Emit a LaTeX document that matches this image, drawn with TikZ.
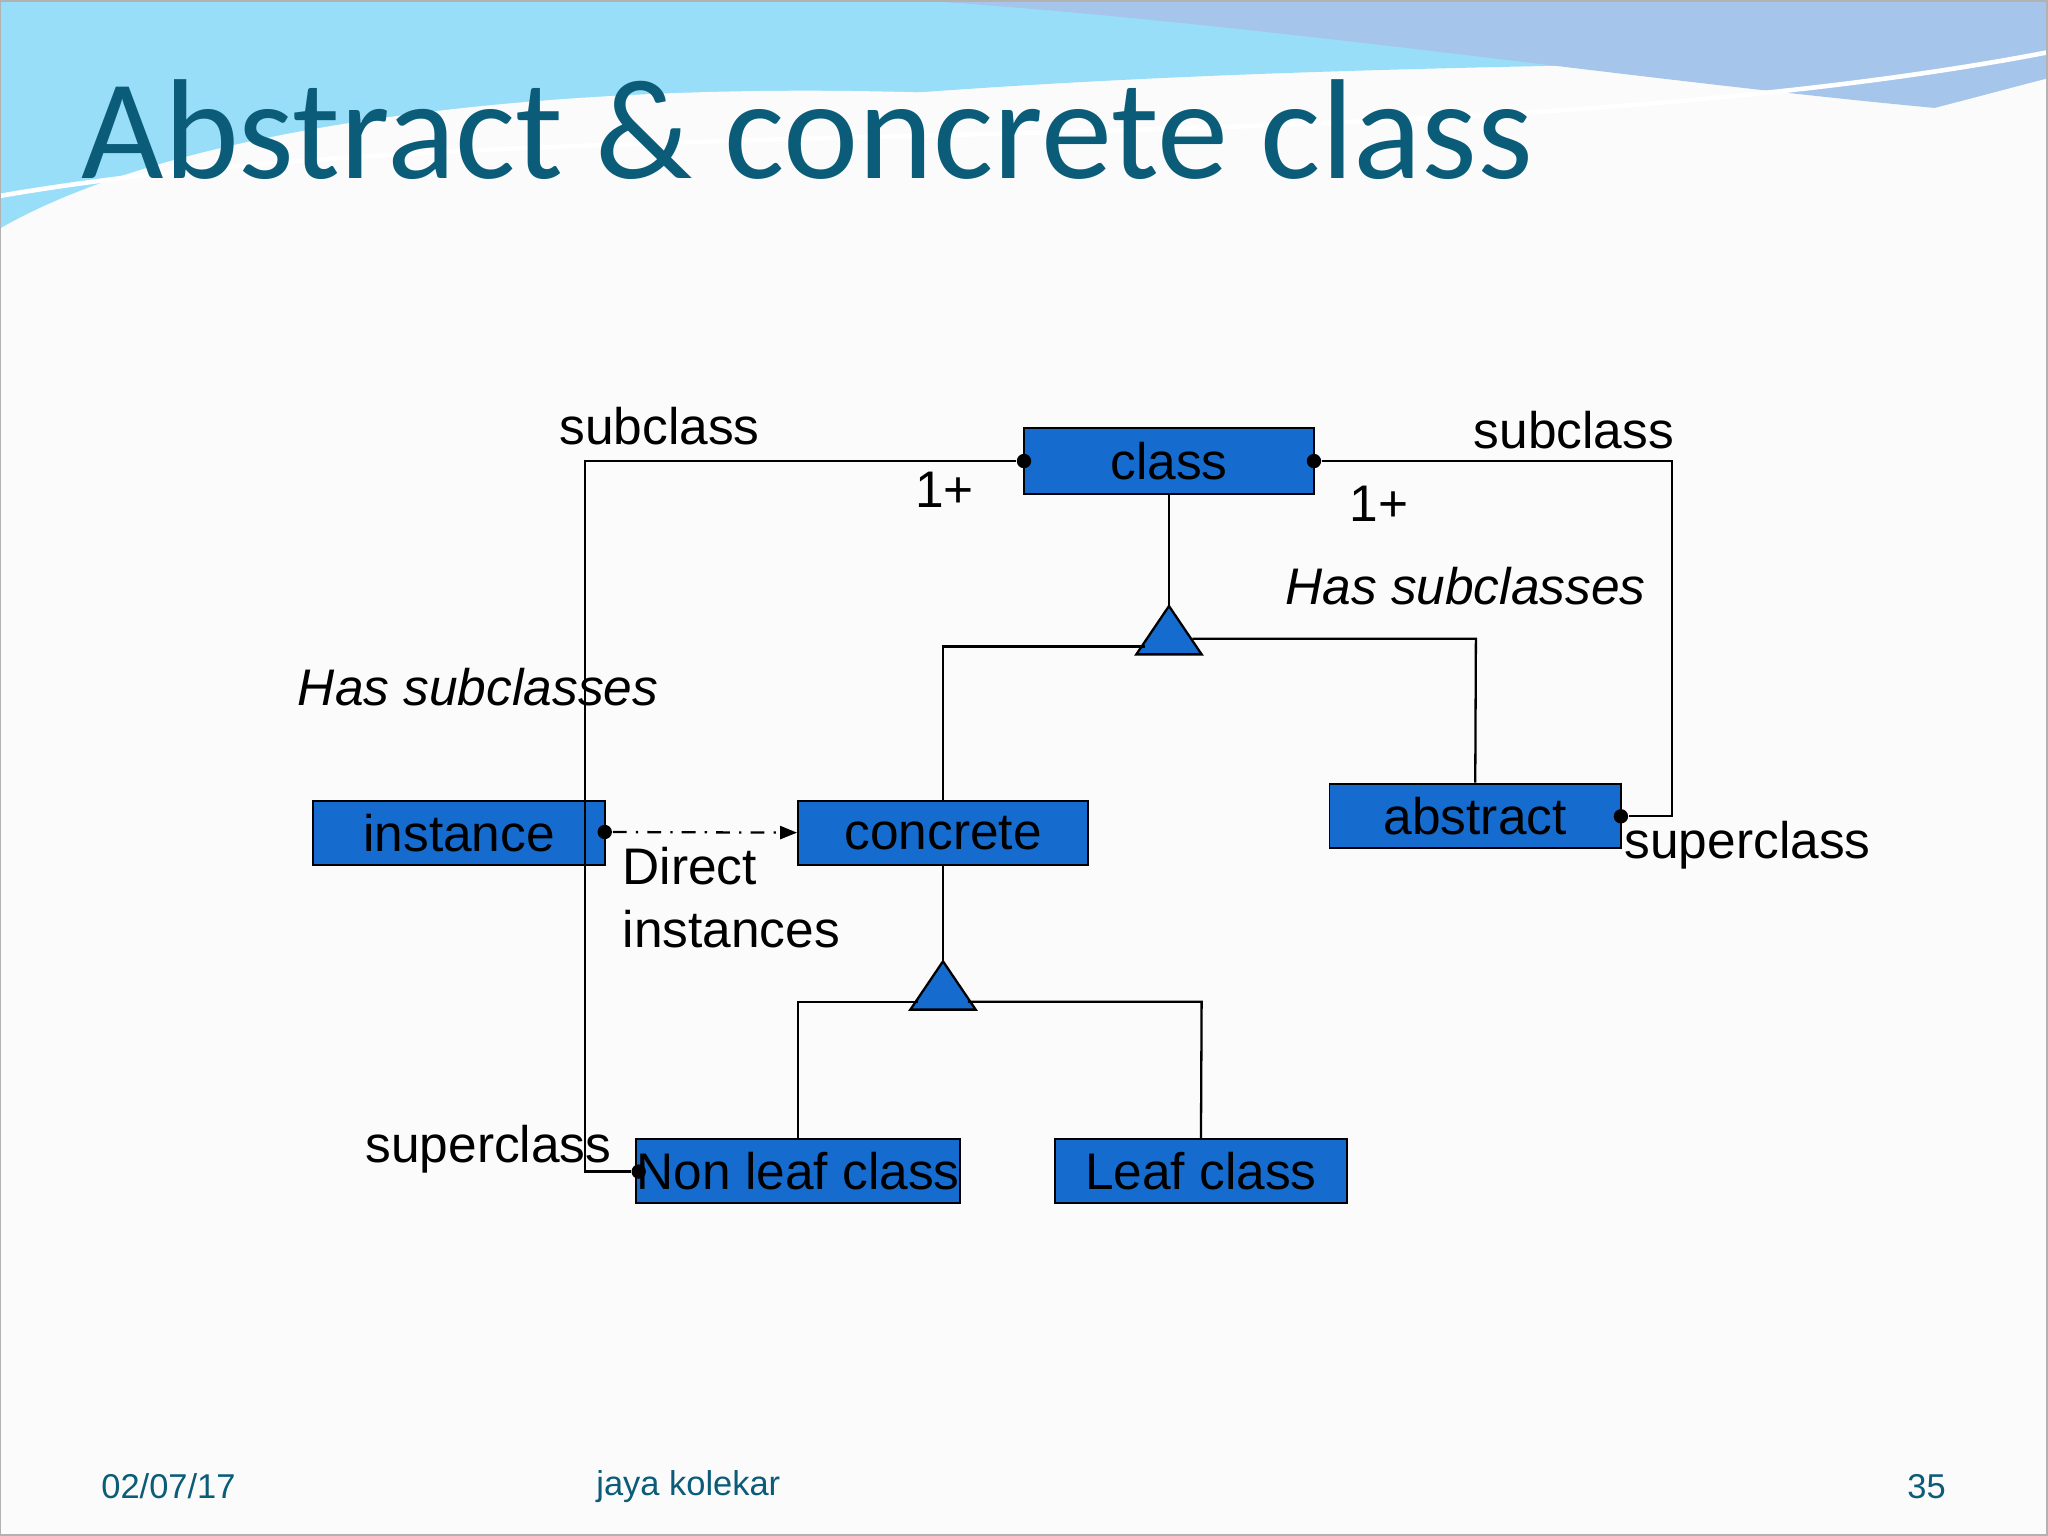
\documentclass[tikz,border=0pt]{standalone}
\usepackage{fontspec}
\setmainfont{Liberation Sans}
\newfontfamily\titlefont{Carlito}
\usetikzlibrary{arrows.meta}
\definecolor{boxblue}{RGB}{22,108,206}
\definecolor{teal1}{RGB}{10,92,120}
\begin{document}
\begin{tikzpicture}[x=0.01cm,y=-0.01cm,
  cls/.style={draw=black,fill=boxblue,inner sep=0pt,font=\fontsize{11.2}{13}\selectfont},
  ln/.style={draw=black,line width=0.5pt},
  dotc/.style={circle,fill=black,inner sep=0pt,minimum size=0.11cm},
  lab/.style={font=\fontsize{11.2}{13}\selectfont,inner sep=0pt},
  foot/.style={font=\fontsize{7.5}{9}\selectfont,text=teal1,inner sep=0pt}]
\useasboundingbox (0,0) rectangle (1568,1176);
\fill[white!97!gray] (0,0) rectangle (1568,1176);
% top waves
\fill[cyan!40] (0,0) -- (1568,0) -- (1568,40) .. controls (1200,60) and (600,30) .. (0,175) -- cycle;
\fill[cyan!60!blue!35] (700,0) -- (1568,0) -- (1568,90) .. controls (1300,70) and (1000,20) .. (700,0) -- cycle;
\fill[white!97!gray] (0,175) .. controls (200,60) and (700,40) .. (1100,110) .. controls (1300,140) and (1450,90) .. (1568,60) -- (1568,95) .. controls (1400,130) and (1200,150) .. (1000,130) .. controls (600,100) and (200,120) .. (0,190) -- cycle;
\draw[white,line width=1pt] (0,150) .. controls (400,80) and (1100,130) .. (1568,40);
\draw[gray!60,line width=0.5pt] (0,1) rectangle (1567,1175);
\node[anchor=base west,inner sep=0pt,text=teal1,font=\titlefont\fontsize{31}{36}\selectfont] (title) at (62,137) {Abstract \& concrete class};
% boxes
\node[cls,minimum width=2.22cm,minimum height=0.5cm] (class) at (895,353) {class};
\node[cls,minimum width=2.23cm,minimum height=0.49cm] (instance) at (351.5,637.5) {instance};
\node[cls,minimum width=2.22cm,minimum height=0.49cm] (concrete) at (722,637.5) {concrete};
\node[cls,minimum width=2.23cm,minimum height=0.49cm] (abstract) at (1129.5,624.5) {abstract};
\node[cls,minimum width=2.48cm,minimum height=0.49cm] (nonleaf) at (611,896.5) {Non leaf class};
\node[cls,minimum width=2.23cm,minimum height=0.49cm] (leaf) at (919.5,896.5) {Leaf class};
% triangles
\draw[ln,fill=boxblue] (895,464) -- (920,501) -- (870,501) -- cycle;
\coordinate (t1) at (895,464);
\draw[ln,fill=boxblue] (722,736) -- (747,773) -- (697,773) -- cycle;
\coordinate (t2) at (722,736);
% connectors
\draw[ln] (class.south) -- (t1);
\draw[ln] (877,495) -- (722,495) -- (concrete.north);
\draw[ln] (913,489) -- (1130,489) -- (abstract.north);
\draw[ln] (concrete.south) -- (t2);
\draw[ln] (703,767) -- (611,767) -- (nonleaf.north);
\draw[ln] (741,767) -- (920,767) -- (leaf.north);
\node[dotc] (d1) at (784,353) {};
\node[dotc] (d2) at (1006,353) {};
\node[dotc] (d3) at (1241,625) {};
\node[dotc] (d4) at (489,897) {};
\node[dotc] (d5) at (463,637) {};
\draw[ln] (d1) -- (448,353) -- (448,897) -- (d4);
\draw[ln] (d2) -- (1280,353) -- (1280,625) -- (d3);
\draw[ln,dash dot,-{Triangle[length=0.13cm,width=0.1cm]}] (d5) -- (concrete.west);
% labels
\node[lab] (l1) at (505,326) {subclass};
\node[lab] (l2) at (723,375) {1+};
\node[lab] (l3) at (1205,329) {subclass};
\node[lab] (l4) at (1056,386) {1+};
\node[lab,font=\fontsize{11.2}{13}\selectfont\itshape] (l5) at (1122,449) {Has subclasses};
\node[lab,font=\fontsize{11.2}{13}\selectfont\itshape] (l6) at (366,526) {Has subclasses};
\node[lab,anchor=north west,align=left,font=\fontsize{11.2}{13.6}\selectfont] (l7) at (476,648) {Direct\\instances};
\node[lab] (l8) at (1338,647) {superclass};
\node[lab] (l9) at (374,880) {superclass};
\node[foot] (f1) at (129,1138) {02/07/17};
\node[foot] (f2) at (527,1138) {jaya kolekar};
\node[foot] (f3) at (1475,1138) {35};
\end{tikzpicture}
\end{document}
